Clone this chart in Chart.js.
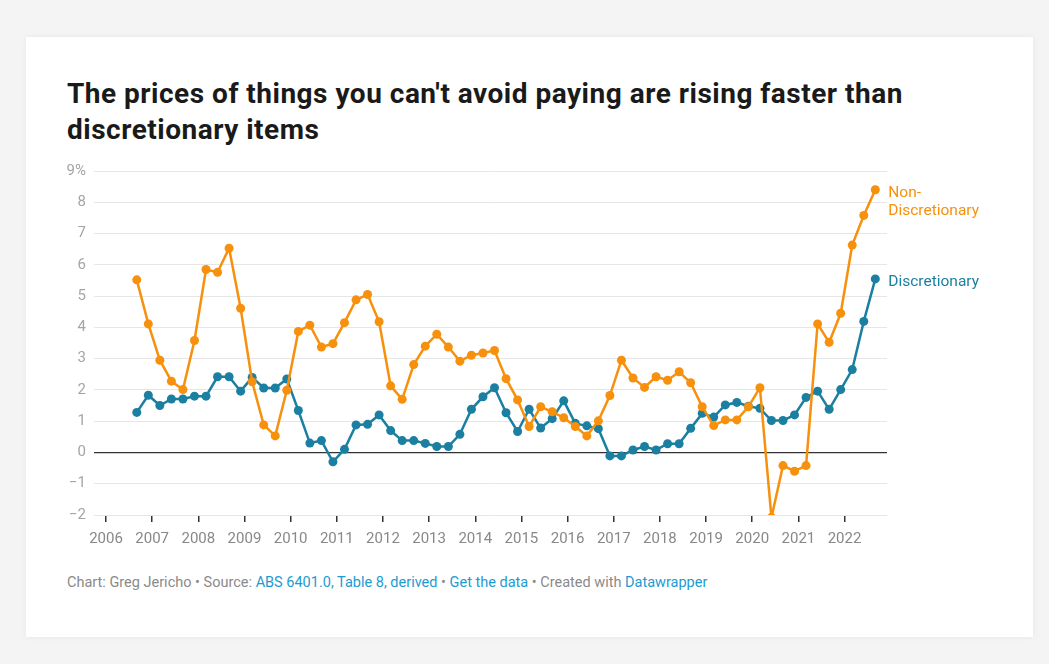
<!DOCTYPE html>
<html>
<head>
<meta charset="utf-8">
<script src="https://cdn.jsdelivr.net/npm/chart.js@4.4.0/dist/chart.umd.min.js"></script>
<style>
  html, body { margin: 0; padding: 0; }
  body { width: 1049px; height: 664px; background: #f4f4f4; position: relative; overflow: hidden; font-family: Roboto, sans-serif; }
  #card { position: absolute; left: 26px; top: 37px; width: 1007px; height: 600px; background: #fff; box-shadow: 0 0 6px rgba(0,0,0,0.06); }
  #title { position: absolute; left: 67px; top: 76px; width: 870px; font-size: 28px; line-height: 36px; font-weight: 700; color: #1a1a1a; letter-spacing: 0.5px; }
  #wrap { position: absolute; left: 55px; top: 154px; width: 990px; height: 401px; }
  #footer { position: absolute; left: 67px; top: 575px; font-size: 14.5px; line-height: 16px; color: #8a8a8a; white-space: nowrap; }
  #footer span { color: #1d9bd1; }
</style>
</head>
<body>
<div id="card"></div>
<div id="title">The prices of things you can't avoid paying are rising faster than discretionary items</div>
<div id="wrap"><canvas id="lineChart"></canvas></div>
<div id="footer">Chart: Greg Jericho • Source: <span>ABS 6401.0, Table 8, derived</span> • <span>Get the data</span> • Created with <span>Datawrapper</span></div>
<script>
// quarterly, Sep 2006 to Sep 2022 (annual % change)
const firstQuarter = [2006, 9];
const nonDiscretionary = [
  5.52, 4.11, 2.95, 2.28, 2.01, 3.58, 5.85, 5.76, 6.53, 4.61,
  2.26, 0.88, 0.53, 1.99, 3.87, 4.07, 3.37, 3.48, 4.15, 4.88,
  5.05, 4.18, 2.13, 1.70, 2.81, 3.40, 3.78, 3.37, 2.92, 3.11,
  3.18, 3.26, 2.36, 1.68, 0.83, 1.46, 1.30, 1.11, 0.83, 0.53,
  1.01, 1.82, 2.95, 2.38, 2.08, 2.42, 2.31, 2.58, 2.23, 1.46,
  0.86, 1.04, 1.04, 1.46, 2.07, -2.08, -0.42, -0.60, -0.42, 4.11,
  3.52, 4.45, 6.63, 7.58, 8.40
];
const discretionary = [
  1.28, 1.83, 1.50, 1.71, 1.71, 1.80, 1.80, 2.42, 2.42, 1.96,
  2.40, 2.06, 2.06, 2.35, 1.34, 0.30, 0.38, -0.30, 0.10, 0.88,
  0.90, 1.20, 0.70, 0.38, 0.38, 0.29, 0.19, 0.19, 0.58, 1.38,
  1.78, 2.07, 1.27, 0.67, 1.38, 0.78, 1.08, 1.65, 0.93, 0.85,
  0.76, -0.11, -0.11, 0.08, 0.19, 0.08, 0.28, 0.28, 0.77, 1.25,
  1.13, 1.52, 1.60, 1.48, 1.41, 1.02, 1.02, 1.20, 1.76, 1.96,
  1.38, 2.01, 2.65, 4.19, 5.55
];
const yearTicks = [2006, 2007, 2008, 2009, 2010, 2011, 2012, 2013, 2014, 2015, 2016, 2017, 2018, 2019, 2020, 2021, 2022];

const orange = '#f7900c';
const blue = '#1a7fa0';

// date of each quarter as decimal year (month start)
function quarterX(i) {
  const m = firstQuarter[1] - 1 + i * 3;
  return firstQuarter[0] + Math.floor(m / 12) + (m % 12) / 12;
}
const toPoints = arr => arr.map((v, i) => ({ x: quarterX(i), y: v }));

const endLabels = {
  id: 'endLabels',
  afterDatasetsDraw(chart) {
    const ctx = chart.ctx;
    ctx.save();
    ctx.font = '15.5px Roboto, sans-serif';
    ctx.textBaseline = 'middle';
    chart.data.datasets.forEach((ds, i) => {
      const meta = chart.getDatasetMeta(i);
      const last = meta.data[meta.data.length - 1];
      ctx.fillStyle = ds.borderColor;
      ds.endText.forEach((t, j) => ctx.fillText(t, last.x + 13, last.y + 3 + j * 18));
    });
    ctx.restore();
  }
};

new Chart(document.getElementById('lineChart'), {
  type: 'line',
  data: {
    datasets: [{
      label: 'Non-Discretionary',
      endText: ['Non-', 'Discretionary'],
      data: toPoints(nonDiscretionary),
      borderColor: orange,
      backgroundColor: orange,
      borderWidth: 2.5,
      pointRadius: 4.5,
      pointBorderWidth: 0,
      tension: 0
    }, {
      label: 'Discretionary',
      endText: ['Discretionary'],
      data: toPoints(discretionary),
      borderColor: blue,
      backgroundColor: blue,
      borderWidth: 2.5,
      pointRadius: 4.5,
      pointBorderWidth: 0,
      tension: 0
    }]
  },
  options: {
    responsive: true,
    maintainAspectRatio: false,
    animation: false,
    layout: { padding: { top: 4, right: 158, left: 0, bottom: 0 } },
    plugins: {
      legend: { display: false },
      tooltip: { enabled: false }
    },
    scales: {
      x: {
        type: 'linear',
        min: 2005.74,
        max: 2022.92,
        afterBuildTicks: s => { s.ticks = yearTicks.map(v => ({ value: v })); },
        afterFit: s => { s.height = 40; },
        border: { display: false },
        grid: { drawOnChartArea: false, drawTicks: true, tickLength: 7, tickColor: '#333', lineWidth: 1.5 },
        ticks: {
          padding: 8,
          color: '#888',
          font: { family: 'Roboto', size: 15 },
          maxRotation: 0,
          callback: v => String(v)
        }
      },
      y: {
        min: -2,
        max: 9,
        afterFit: s => { s.width = 39; },
        border: { display: false },
        grid: {
          drawTicks: false,
          color: c => c.tick.value === 0 ? '#333' : '#e6e6e6',
          lineWidth: c => c.tick.value === 0 ? 1.2 : 1
        },
        ticks: {
          stepSize: 1,
          padding: 8,
          color: '#a5a5a5',
          font: { family: 'Roboto', size: 15 },
          callback: v => v === 9 ? '9%' : (v < 0 ? '\u2212' + Math.abs(v) : String(v))
        }
      }
    }
  },
  plugins: [endLabels]
});
</script>
</body>
</html>
